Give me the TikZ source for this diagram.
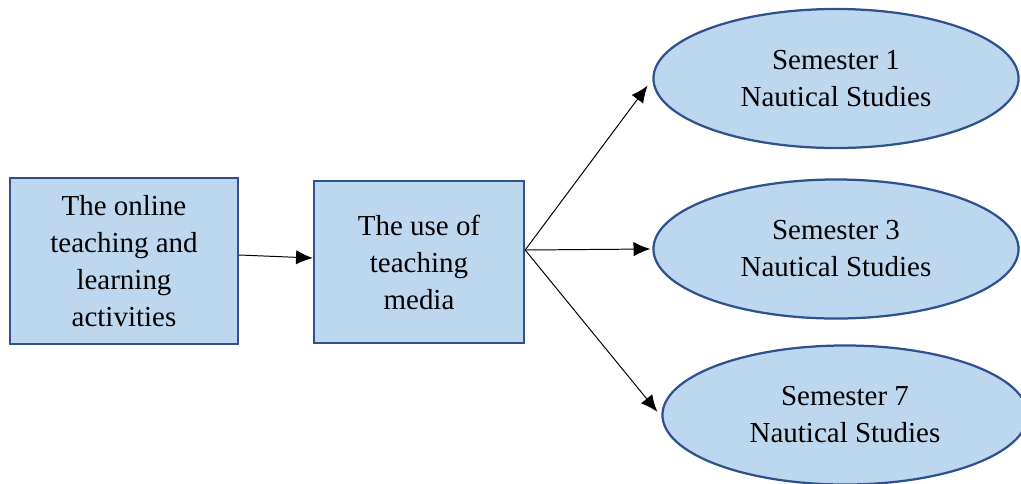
\documentclass[tikz,border=0pt]{standalone}
\usepackage{fontspec}
\setmainfont{Liberation Serif}
\usepackage{tikz}
\usetikzlibrary{shapes.geometric, arrows.meta}
\definecolor{boxfill}{HTML}{BDD7EE}
\definecolor{boxline}{HTML}{2F528F}
\tikzset{
  box/.style={draw=boxline, fill=boxfill, line width=1.6pt, align=center, inner sep=0pt},
  sem/.style={ellipse, draw=boxline, fill=boxfill, line width=1.6pt, align=center,
    minimum width=9.125cm, minimum height=3.475cm, inner sep=0pt},
  arr/.style={-{Latex[length=0.42cm, width=0.36cm]}, line width=0.7pt}
}
\begin{document}
\begin{tikzpicture}[x=0.025cm, y=-0.025cm, font=\fontsize{20.6}{26.3}\selectfont]
            \useasboundingbox (0,0) rectangle (1021,483);
            \node[box, minimum width=5.7cm, minimum height=4.15cm] (online) at (124,261)
              {The online\\teaching and\\learning\\activities};
            \node[box, minimum width=5.25cm, minimum height=4.05cm] (media) at (419,262)
              {The use of\\teaching\\media};
            \node[sem] (sem1) at (836,78.5) {Semester 1\\Nautical Studies};
            \node[sem] (sem3) at (836,249) {Semester 3\\Nautical Studies};
            \node[sem] (sem7) at (845,415) {Semester 7\\Nautical Studies};
            \coordinate (fan) at ([yshift=0.3cm]media.east);
            \draw[arr] ([yshift=0.15cm]online.east) -- ([yshift=0.1cm]media.west);
            \draw[arr] (fan) -- ([shift={(-0.12cm,-0.18cm)}]sem1.west);
            \draw[arr] (fan) -- ([xshift=-0.05cm]sem3.west);
            \draw[arr] (fan) -- ([shift={(-0.1cm,0.08cm)}]sem7.west);
        \end{tikzpicture}
\end{document}
